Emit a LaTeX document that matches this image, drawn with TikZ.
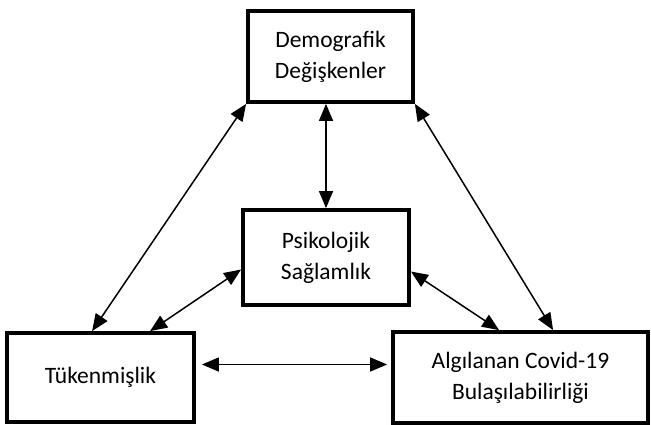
\documentclass[tikz,border=0pt]{standalone}
\usepackage{fontspec}
\setmainfont{Carlito}
\usepackage{tikz}
\usetikzlibrary{arrows.meta}
\usetikzlibrary{calc}
\tikzstyle{box}=[rectangle,draw=black,line width=3.8pt,align=center,inner sep=0pt,font=\fontsize{23.5}{31}\selectfont]
\tikzstyle{link}=[{Triangle[length=17pt,width=14pt]}-{Triangle[length=17pt,width=14pt]},line width=1.5pt]

\begin{document}
\begin{tikzpicture}[x=1pt,y=-1pt]
\useasboundingbox (0,0) rectangle (651,425);

%boxes
    \foreach \pos/\name/\w/\h/\label in {{(330.5,56.5)/demo/165/91/{Demografik\\Değişkenler}}, {(326,257.5)/psy/166/95/{Psikolojik\\Sağlamlık}}, {(100.5,377.5)/tuk/187/89/{Tükenmişlik}}, {(520.5,377.5)/alg/255/91/{Algılanan Covid-19\\Bulaşılabilirliği}}}
        \node[box, minimum width=\w pt, minimum height=\h pt] (\name) at \pos {\label};

%links
  \draw[link] (demo.south west) -- ([xshift=87pt]tuk.north west);
  \draw[link] (demo.south east) -- ([xshift=162pt]alg.north west);
  \draw[link] (demo.south -| psy.north) -- (psy.north);
  \draw[link] ([yshift=-12pt]psy.west) -- ([xshift=145pt]tuk.north west);
  \draw[link] ([yshift=-14pt]psy.east) -- ([xshift=108pt]alg.north west);
  \draw[link, shorten <=6pt, shorten >=4pt] ([yshift=13pt]tuk.east) -- ([yshift=13pt]tuk.east -| alg.west);

\end{tikzpicture}
\end{document}
